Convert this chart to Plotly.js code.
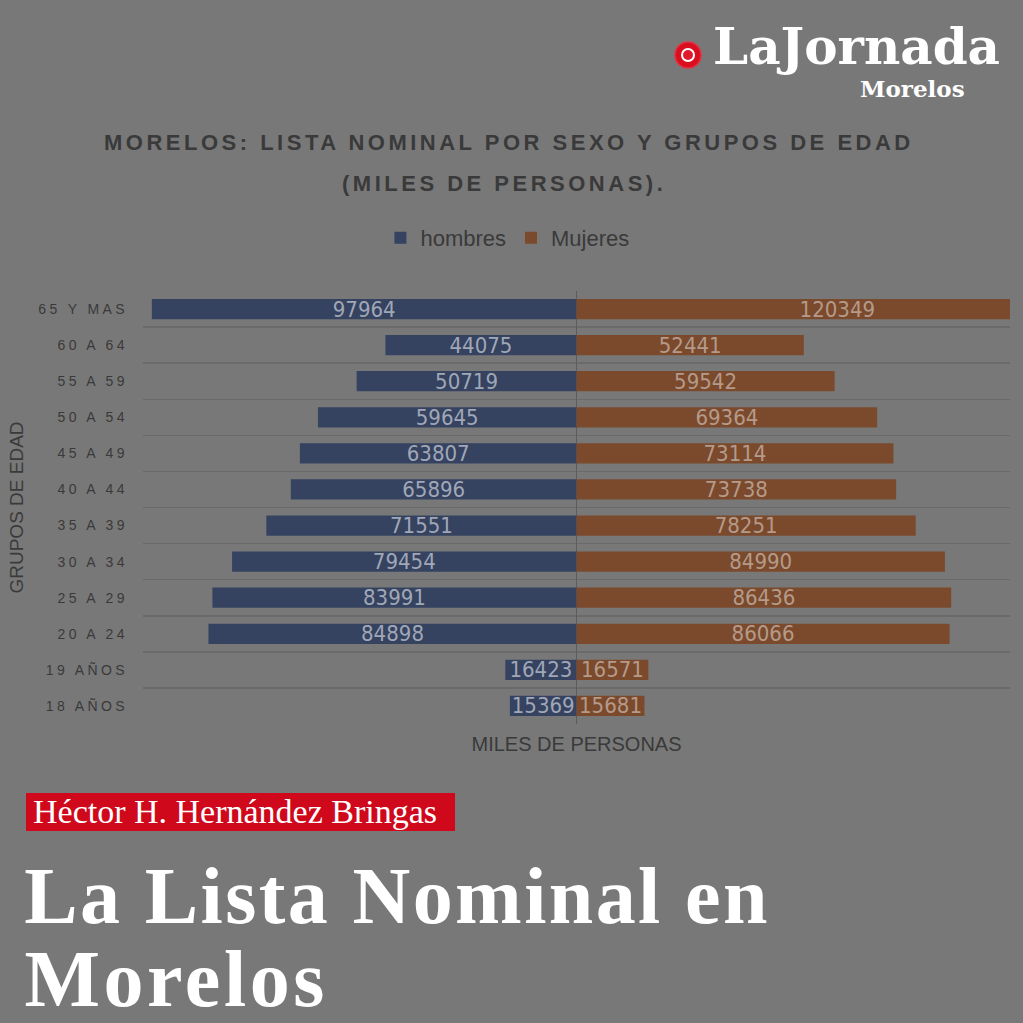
<!DOCTYPE html>
<html>
<head>
<meta charset="utf-8">
<script src="https://cdn.plot.ly/plotly-3.0.1.min.js"></script>
<style>
html,body{margin:0;padding:0;background:#787878;}
#chart{width:1023px;height:1023px;}
#chart .ytick text{letter-spacing:3.4px;}
#chart .annotation[data-index="0"] text,#chart .annotation[data-index="1"] text{letter-spacing:3.5px;}
#chart .annotation[data-index="5"] text{letter-spacing:2.4px;}
#chart .annotation[data-index="6"] text{letter-spacing:3.6px;}
</style>
</head>
<body>
<div id="chart"></div>
<script>
var categories = ["18 AÑOS","19 AÑOS","20 A 24","25 A 29","30 A 34","35 A 39","40 A 44","45 A 49","50 A 54","55 A 59","60 A 64","65 Y MAS"];
var hombres = [15369,16423,84898,83991,79454,71551,65896,63807,59645,50719,44075,97964];
var mujeres = [15681,16571,86066,86436,84990,78251,73738,73114,69364,59542,52441,120349];
var seriesNames = ["hombres","Mujeres"];

var W = 1023, H = 1023;
function px(x){return x/W;}
function py(y){return 1 - y/H;}

var labelFont = "DejaVu Sans Condensed, DejaVu Sans, sans-serif";
var sans = "Liberation Sans, Arial, sans-serif";

var traceH = {
  type:"bar", orientation:"h", name:seriesNames[0],
  y:categories, x:hombres.map(function(v){return -v;}),
  text:hombres.map(String), texttemplate:"%{text}",
  textposition:"inside", insidetextanchor:"middle", constraintext:"none",
  textfont:{family:labelFont, size:22, color:"#a0a7b6"},
  marker:{color:"#354260"}, hoverinfo:"skip", cliponaxis:true
};
var traceM = {
  type:"bar", orientation:"h", name:seriesNames[1],
  y:categories, x:mujeres,
  text:mujeres.map(String), texttemplate:"%{text}",
  textposition:"inside", insidetextanchor:"middle", constraintext:"none",
  textfont:{family:labelFont, size:22, color:"#b49a8a"},
  marker:{color:"#7b4a2c"}, hoverinfo:"skip", cliponaxis:true
};

var layout = {
  width:W, height:H,
  margin:{l:0,r:0,t:0,b:0},
  paper_bgcolor:"#787878", plot_bgcolor:"#787878",
  barmode:"relative", bargap:0.44,
  showlegend:true,
  legend:{orientation:"h", x:0.496, xanchor:"center", y:py(238), yanchor:"middle",
          font:{family:sans, size:22, color:"#3a3a3a"}, bgcolor:"rgba(0,0,0,0)",
          itemwidth:30, tracegroupgap:0},
  xaxis:{domain:[px(143), px(1010)], range:[-100000,100000], showgrid:false,
         showticklabels:false, ticks:"", zeroline:true, zerolinecolor:"#5c5c5c", zerolinewidth:1.5,
         showline:false, fixedrange:true,
         title:{text:"MILES DE PERSONAS", standoff:12, font:{family:sans, size:20, color:"#3a3a3a"}}},
  yaxis:{domain:[py(724), py(291)], type:"category", tickson:"boundaries",
         showgrid:true, gridcolor:"#6a6a6a", gridwidth:1.5, ticks:"", ticklen:0,
         tickfont:{family:sans, size:14, color:"#3a3a3a"},
         ticklabelstandoff:14, fixedrange:true,
         title:{text:"GRUPOS DE EDAD", standoff:36, font:{family:sans, size:19, color:"#3a3a3a"}}},
  shapes:[
    {type:"rect", xref:"paper", yref:"paper", x0:px(26), x1:px(455), y0:py(831), y1:py(793),
     fillcolor:"#d0081c", line:{width:0}, layer:"below"},
    {type:"circle", xref:"paper", yref:"paper", x0:px(675), x1:px(701), y0:py(68), y1:py(42),
     fillcolor:"#d90f1f", line:{color:"#e43040", width:1.5}},
    {type:"circle", xref:"paper", yref:"paper", x0:px(681), x1:px(695), y0:py(62), y1:py(48),
     fillcolor:"#ffffff", line:{color:"#ffffff", width:0}},
    {type:"circle", xref:"paper", yref:"paper", x0:px(683), x1:px(693), y0:py(60), y1:py(50),
     fillcolor:"#e01a2a", line:{width:0}}
  ],
  annotations:[
    {text:"<b>MORELOS: LISTA NOMINAL POR SEXO Y GRUPOS DE EDAD</b>", xref:"paper", yref:"paper",
     x:px(509), y:py(142), xanchor:"center", yanchor:"middle", showarrow:false,
     font:{family:sans, size:22, color:"#3a3a3a"}},
    {text:"<b>(MILES DE PERSONAS).</b>", xref:"paper", yref:"paper",
     x:px(504), y:py(183), xanchor:"center", yanchor:"middle", showarrow:false,
     font:{family:sans, size:22, color:"#3a3a3a"}},
    {text:"<b>LaJornada</b>", xref:"paper", yref:"paper",
     x:px(1002), y:py(47), xanchor:"right", yanchor:"middle", showarrow:false,
     font:{family:"DejaVu Serif, Liberation Serif, serif", size:50, color:"#ffffff"}},
    {text:"<b>Morelos</b>", xref:"paper", yref:"paper",
     x:px(967), y:py(88), xanchor:"right", yanchor:"middle", showarrow:false,
     font:{family:"DejaVu Serif, Liberation Serif, serif", size:23, color:"#ffffff"}},
    {text:"Héctor H. Hernández Bringas", xref:"paper", yref:"paper",
     x:px(31), y:py(811), xanchor:"left", yanchor:"middle", showarrow:false,
     font:{family:"Liberation Serif, Times New Roman, serif", size:34, color:"#ffffff"}},
    {text:"<b>La Lista Nominal en</b>", xref:"paper", yref:"paper",
     x:px(45), y:py(896), xanchor:"left", yanchor:"middle", showarrow:false,
     font:{family:"Liberation Serif, Times New Roman, serif", size:80, color:"#ffffff"}},
    {text:"<b>Morelos</b>", xref:"paper", yref:"paper",
     x:px(35), y:py(979), xanchor:"left", yanchor:"middle", showarrow:false,
     font:{family:"Liberation Serif, Times New Roman, serif", size:80, color:"#ffffff"}}
  ]
};

Plotly.newPlot("chart", [traceH, traceM], layout, {staticPlot:true, displayModeBar:false});
</script>
</body>
</html>
